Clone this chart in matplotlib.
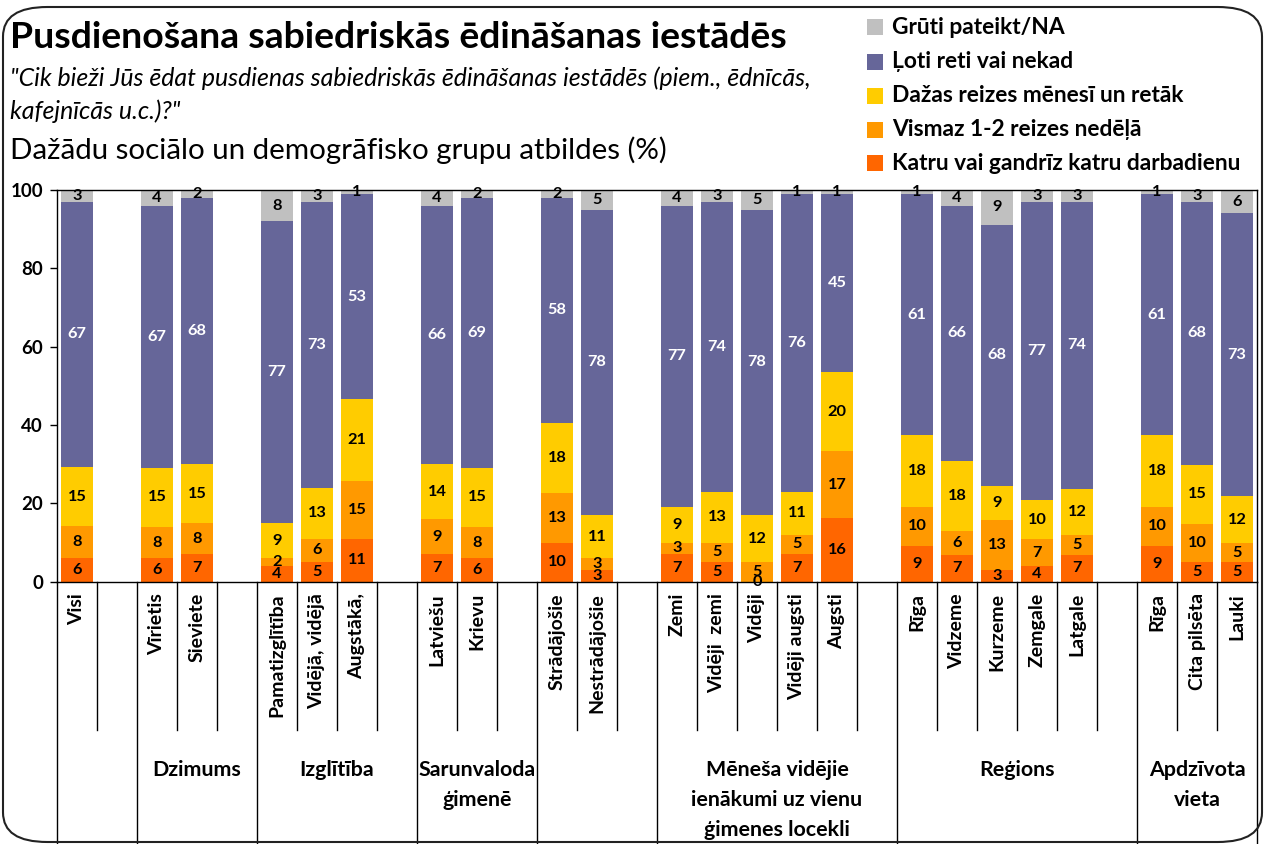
import matplotlib
matplotlib.use("Agg")
import matplotlib.pyplot as plt
import numpy as np
from matplotlib.patches import FancyBboxPatch, Rectangle

# ---------------- data ----------------
categories = ["Visi", "", "Vīrietis", "Sieviete", "", "Pamatizglītība", "Vidējā, vidējā",
              "Augstākā,", "", "Latviešu", "Krievu", "", "Strādājošie", "Nestrādājošie", "",
              "Zemi", "Vidēji  zemi", "Vidēji", "Vidēji augsti", "Augsti", "", "Rīga",
              "Vidzeme", "Kurzeme", "Zemgale", "Latgale", "", "Rīga", "Cita pilsēta", "Lauki"]

katru = [6, 0, 6, 7, 0, 4, 5, 11, 0, 7, 6, 0, 10, 3, 0, 7, 5, 0, 7, 16, 0, 9, 7, 3, 4, 7, 0, 9, 5, 5]
vismaz = [8, 0, 8, 8, 0, 2, 6, 15, 0, 9, 8, 0, 13, 3, 0, 3, 5, 5, 5, 17, 0, 10, 6, 13, 7, 5, 0, 10, 10, 5]
dazas = [15, 0, 15, 15, 0, 9, 13, 21, 0, 14, 15, 0, 18, 11, 0, 9, 13, 12, 11, 20, 0, 18, 18, 9, 10, 12, 0, 18, 15, 12]
loti = [67, 0, 67, 68, 0, 77, 73, 53, 0, 66, 69, 0, 58, 78, 0, 77, 74, 78, 76, 45, 0, 61, 66, 68, 77, 74, 0, 61, 68, 73]
gruti = [3, 0, 4, 2, 0, 8, 3, 1, 0, 4, 2, 0, 2, 5, 0, 4, 3, 5, 1, 1, 0, 1, 4, 9, 3, 3, 0, 1, 3, 6]

series_names = ["Katru vai gandrīz katru darbadienu", "Vismaz 1-2 reizes nedēļā",
                "Dažas reizes mēnesī un retāk", "Ļoti reti vai nekad", "Grūti pateikt/NA"]
series_colors = ["#FF6600", "#FF9900", "#FFCC00", "#666699", "#C0C0C0"]
label_colors = ["black", "black", "black", "white", "black"]

group_names = ["", "Dzimums", "Izglītība", "Sarunvaloda\nģimenē", "",
               "Mēneša vidējie\nienākumi uz vienu\nģimenes locekli", "Reģions", "Apdzīvota\nvieta"]
group_starts = [0, 2, 5, 9, 12, 15, 21, 27]
group_ends = [2, 5, 9, 12, 15, 21, 27, 30]

title = "Pusdienošana sabiedriskās ēdināšanas iestādēs"
subtitle1 = "\"Cik bieži Jūs ēdat pusdienas sabiedriskās ēdināšanas iestādēs (piem., ēdnīcās,"
subtitle2 = "kafejnīcās u.c.)?\""
subtitle3 = "Dažādu sociālo un demogrāfisko grupu atbildes (%)"

# ---------------- figure ----------------
FONT = "Lato"
plt.rcParams["font.family"] = [FONT, "DejaVu Sans"]
W, H = 1266, 844
fig = plt.figure(figsize=(W / 100, H / 100), dpi=100)
renderer = fig.canvas.get_renderer()


def fx(px):
    return px / W


def fy(py):
    return 1 - py / H


def fit_width(t, target):
    w = t.get_window_extent(renderer).width
    t.set_fontsize(t.get_fontsize() * target / w)
    return t.get_fontsize()


y0_px, y100_px = 581.7, 190.0
x0_px, x1_px = 57.0, 1257.0
ax = fig.add_axes([fx(x0_px), fy(y0_px), (x1_px - x0_px) / W, (y0_px - y100_px) / H])

data = np.array([katru, vismaz, dazas, loti, gruti], dtype=float)
totals = data.sum(axis=0)
present = np.array([c != "" for c in categories])
x = np.arange(len(categories))
shares = np.zeros_like(data)
shares[:, present] = data[:, present] / totals[present] * 100

lab_fs = 11.8

bottom = np.zeros(len(categories))
for k in range(5):
    ax.bar(x[present], shares[k, present], bottom=bottom[present], width=0.8,
           color=series_colors[k], edgecolor="none", zorder=2)
    for i in x[present]:
        ax.text(i, bottom[i] + shares[k, i] / 2, f"{int(data[k, i])}",
                ha="center", va="center", fontsize=lab_fs, fontweight="bold",
                color=label_colors[k], zorder=3)
    bottom = bottom + shares[k]

ax.set_xlim(-0.5, len(categories) - 0.5)
ax.set_ylim(0, 100)
ax.set_yticks([0, 20, 40, 60, 80, 100])
ax.set_xticks([])
for s in ax.spines.values():
    s.set_color("black")
    s.set_linewidth(1.0)
ax.tick_params(axis="y", direction="out", length=5, width=1, pad=5)
for tl in ax.get_yticklabels():
    tl.set_fontweight("bold")
    tl.set_fontsize(13.5)

# ---------------- category axis (multi-level) ----------------
xt = ax.get_xaxis_transform()
axh_px = y0_px - y100_px
short_y = -(730 - y0_px) / axh_px
long_y = -(H + 5 - y0_px) / axh_px
group_edges = set(group_starts) | set(group_ends)
for b in range(len(categories) + 1):
    yb = long_y if b in group_edges else short_y
    ax.plot([b - 0.5, b - 0.5], [0, yb], transform=xt, color="black", lw=1.0,
            clip_on=False, zorder=1)

tmp = fig.text(0, 0, "Pamatizglītība", fontweight="bold", fontsize=12, rotation=90)
h = tmp.get_window_extent(renderer).height
cat_fs = 12 * 122 / h
tmp.remove()
cat_top = -(593 - y0_px) / axh_px
for i, c in enumerate(categories):
    if c:
        ax.text(i, cat_top, c, rotation=90, ha="center", va="top", transform=xt,
                fontsize=cat_fs, fontweight="bold")

tmp = fig.text(0, 0, "ienākumi uz vienu", fontweight="bold", fontsize=12)
grp_fs = fit_width(tmp, 170)
tmp.remove()
base_px = [776, 806, 836]
for name, s0, s1 in zip(group_names, group_starts, group_ends):
    if not name:
        continue
    xc = (s0 + s1 - 1) / 2
    for j, line in enumerate(name.split("\n")):
        ax.text(xc, -(base_px[j] - y0_px) / axh_px, line, ha="center", va="baseline",
                transform=xt, fontsize=grp_fs, fontweight="bold")

# ---------------- headings ----------------
t = fig.text(fx(10), fy(38), title, fontweight="bold", fontsize=22, ha="left", va="center")
fit_width(t, 777)
t = fig.text(fx(10), fy(78), subtitle1, style="italic", fontsize=14, ha="left", va="center")
sub_fs = fit_width(t, 803)
fig.text(fx(10), fy(111), subtitle2, style="italic", fontsize=sub_fs, ha="left", va="center")
t = fig.text(fx(10), fy(150), subtitle3, fontsize=18, ha="left", va="center")
fit_width(t, 655)

# ---------------- legend ----------------
tmp = fig.text(0, 0, series_names[0], fontweight="bold", fontsize=14)
leg_fs = fit_width(tmp, 353)
tmp.remove()
leg_rows = [163, 130, 96, 62, 27]
for k in range(5):
    yc = leg_rows[k]
    fig.patches.append(Rectangle((fx(867), fy(yc + 8)), 16 / W, 16 / H,
                                 transform=fig.transFigure, facecolor=series_colors[k],
                                 edgecolor="none"))
    fig.text(fx(892), fy(yc), series_names[k], fontweight="bold", fontsize=leg_fs,
             ha="left", va="center")

# ---------------- outer rounded frame ----------------
frame = FancyBboxPatch((fx(3), fy(842)), (1262 - 3) / W, (842 - 7) / H,
                       boxstyle="round,pad=0,rounding_size=0.035",
                       transform=fig.transFigure, facecolor="none",
                       edgecolor="#222222", linewidth=1.5)
fig.patches.append(frame)

fig.savefig("out.png", dpi=100)
